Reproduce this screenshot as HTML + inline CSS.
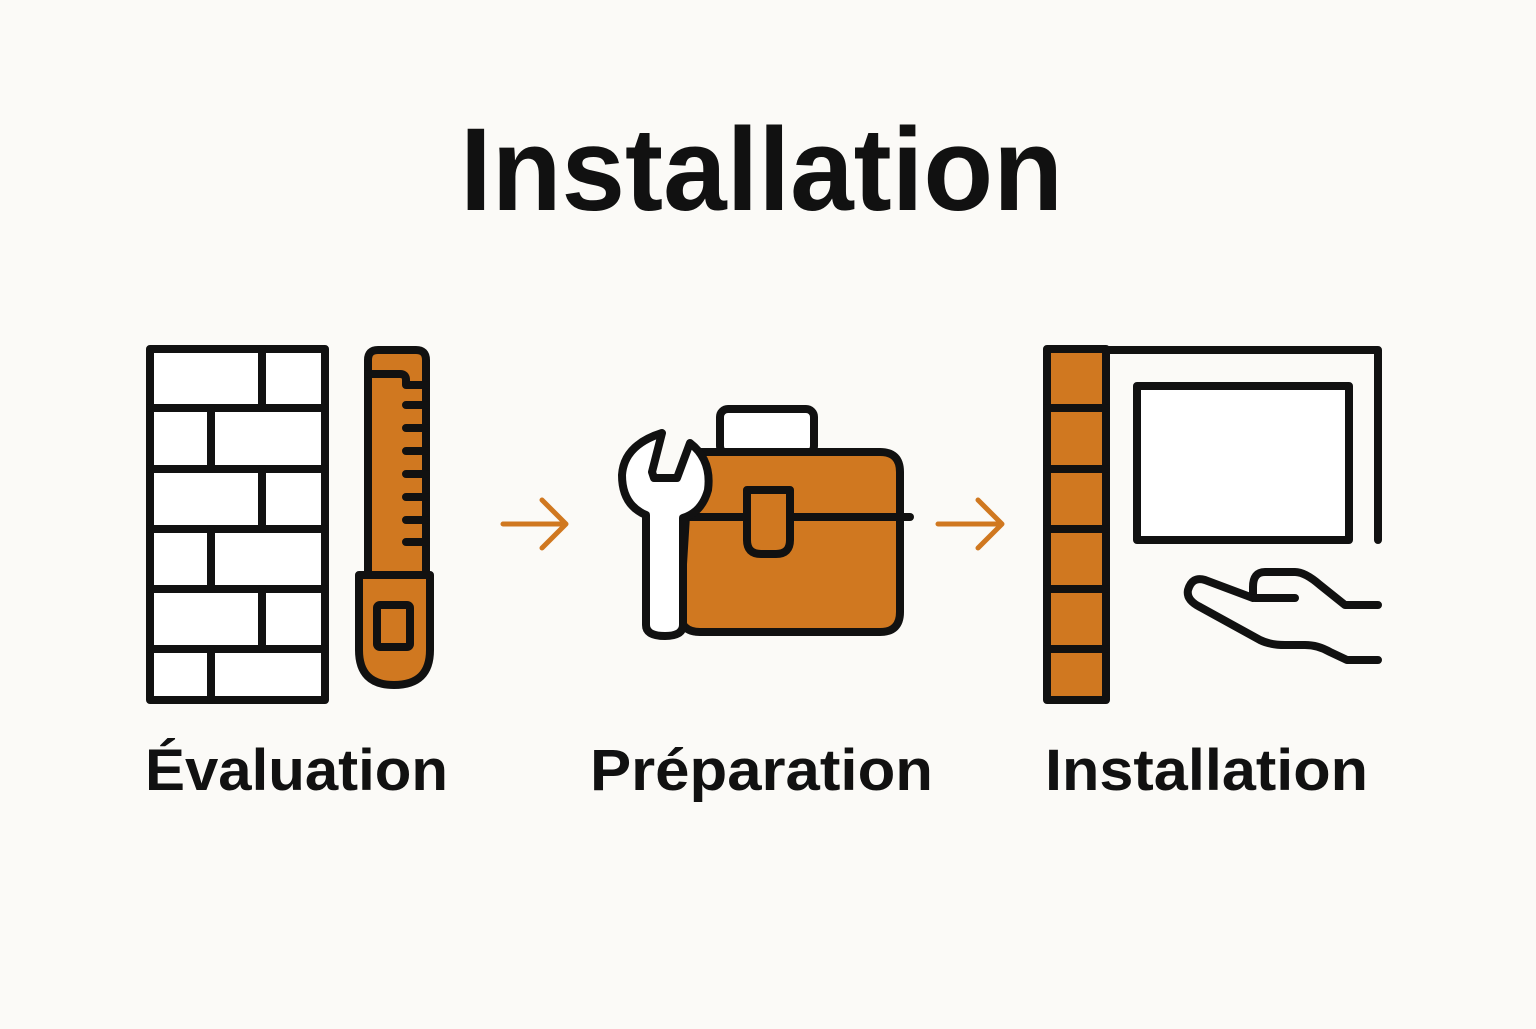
<!DOCTYPE html>
<html><head><meta charset="utf-8"><style>body{margin:0;background:#fbfaf7}</style></head><body>
<svg width="1536" height="1024" viewBox="0 0 1536 1024" xmlns="http://www.w3.org/2000/svg">
<rect width="1536" height="1024" fill="#fbfaf7"/>
<g font-family="Liberation Sans, sans-serif" fill="#111">
<text x="460" y="210" font-size="118" font-weight="bold" textLength="603" lengthAdjust="spacingAndGlyphs">Installation</text>
<text x="145" y="790" font-size="58" font-weight="bold" textLength="303" lengthAdjust="spacingAndGlyphs">Évaluation</text>
<text x="590" y="790" font-size="58" font-weight="bold" textLength="343" lengthAdjust="spacingAndGlyphs">Préparation</text>
<text x="1045" y="790" font-size="58" font-weight="bold" textLength="323" lengthAdjust="spacingAndGlyphs">Installation</text>
</g>
<g stroke="#111" stroke-width="8" fill="none" stroke-linecap="round" stroke-linejoin="round">
<rect x="150" y="349" width="175" height="351" fill="#fff"/>
<path d="M150 408H325M150 469H325M150 529H325M150 589H325M150 649H325"/>
<path d="M262 349V408M262 469V529M262 589V649M211 408V469M211 529V589M211 649V700"/>
<path d="M368 575V360Q368 350 378 350H416Q426 350 426 360V575Z" fill="#d07820"/>
<path d="M368 374H400Q406 374 406 380V385H426"/>
<path d="M406 405H426M406 428H426M406 451H426M406 474H426M406 497H426M406 520H426M406 542H426"/>
<path d="M359 575H430V650Q430 685 394 685Q359 685 359 650Z" fill="#d07820"/>
<rect x="377" y="605" width="33" height="42" rx="3"/>
<g stroke="#d07820" stroke-width="5">
<path d="M503 524H564M542 500L566 524L542 548"/>
<path d="M938 524H1000M978 500L1002 524L978 548"/>
</g>
<rect x="720" y="409" width="94" height="45" rx="8" fill="#fff"/>
<path d="M690 452H880Q900 452 900 472V612Q900 632 880 632H700Q680 632 680 612Z" fill="#d07820"/>
<path d="M685 517H910"/>
<path d="M747 490H790V540Q790 554 776 554H761Q747 554 747 540Z" fill="#d07820"/>
<path d="M662 433L652 472L654 478H677L690 443Q712 460 708 490Q702 512 683 518V625Q683 636 665 636Q646 636 646 625V515Q622 505 622 475Q624 445 662 433Z" fill="#fff"/>
<rect x="1047" y="349" width="59" height="351" fill="#d07820"/>
<path d="M1047 408H1106M1047 469H1106M1047 529H1106M1047 589H1106M1047 649H1106"/>
<path d="M1106 350H1378V540"/>
<rect x="1137" y="386" width="212" height="154" fill="#fff"/>
<path d="M1378 605H1345L1320 585Q1305 572 1295 572H1265Q1253 572 1253 587V598L1205 580Q1192 576 1188 590Q1186 600 1200 607L1260 640Q1270 645 1285 645H1305Q1318 645 1330 652L1347 660H1378"/>
<path d="M1255 598H1295"/>
</g>
</svg>
</body></html>
